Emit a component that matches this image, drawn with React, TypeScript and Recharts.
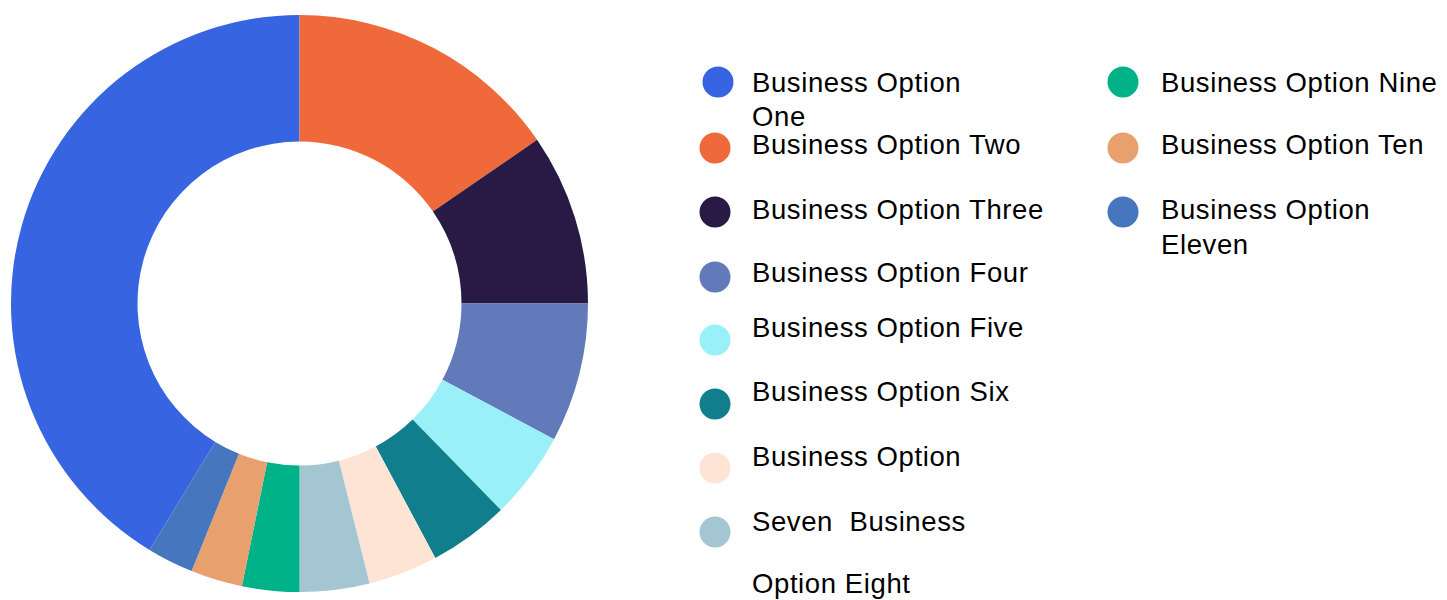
import { PieChart, Pie, Cell } from 'recharts';

const names = [
  'Business Option One',
  'Business Option Two',
  'Business Option Three',
  'Business Option Four',
  'Business Option Five',
  'Business Option Six',
  'Business Option Seven',
  'Business Option Eight',
  'Business Option Nine',
  'Business Option Ten',
  'Business Option Eleven',
];
const shares = [41.3, 15.4, 9.6, 7.8, 4.9, 4.5, 3.9, 3.9, 3.2, 2.9, 2.6];
const colors = [
  '#3764E0', '#F0693B', '#281A44', '#627AB9', '#9AF0F8', '#107E8C',
  '#FEE4D4', '#A3C6D2', '#00B287', '#E7A06E', '#4677BE',
];

// legend text exactly as it wraps in the source
const leftLines = [
  ['Business Option', 'One'],
  ['Business Option Two'],
  ['Business Option Three'],
  ['Business Option Four'],
  ['Business Option Five'],
  ['Business Option Six'],
  ['Business Option'],
  ['Seven  Business'],
  ['Option Eight'],
];
const rightLines = [['Business Option Nine'], ['Business Option Ten'], ['Business Option', 'Eleven']];

const data = names.map((name, i) => ({ name, value: shares[i] }));
const total = shares.reduce((a, b) => a + b, 0);
// first slice ends at 12 o'clock, rest run clockwise
const start = 90 + (360 * shares[0]) / total;

const leftDots = [82, 148, 212, 277, 340, 404, 468, 532];
const leftBase = [92, 154, 219, 282, 337, 401, 466, 531, 593];
const rightDots = [82, 148, 212];
const rightBase = [92, 154, 219];

const textStyle = {
  fontFamily: '"Liberation Sans", Arial, sans-serif',
  fontSize: 27.5,
  letterSpacing: 0.6,
  fill: '#000',
  whiteSpace: 'pre' as const,
};

export default function App() {
  return (
    <div
      style={{
        position: 'fixed',
        left: 0,
        top: 0,
        width: 1447,
        height: 600,
        background: '#fff',
        overflow: 'hidden',
      }}
    >
      <div style={{ position: 'absolute', left: 0, top: 0 }}>
        <PieChart width={600} height={600} margin={{ top: 0, right: 0, bottom: 0, left: 0 }}>
          <Pie
            data={data}
            dataKey="value"
            nameKey="name"
            cx={299.5}
            cy={303.5}
            innerRadius={162}
            outerRadius={288.5}
            startAngle={start}
            endAngle={start - 360}
            stroke="none"
            isAnimationActive={false}
          >
            {data.map((d, i) => (
              <Cell key={d.name} fill={colors[i]} />
            ))}
          </Pie>
        </PieChart>
      </div>
      <svg width={1447} height={600} style={{ position: 'absolute', left: 0, top: 0 }}>
        {leftDots.map((y, i) => (
          <circle key={'ld' + i} cx={i === 0 ? 718 : 715} cy={y} r={15.5} fill={colors[i]} />
        ))}
        {leftLines.map((lines, i) =>
          lines.map((t, j) => (
            <text key={'lt' + i + j} x={752} y={leftBase[i] + j * 34} style={textStyle}>
              {t}
            </text>
          ))
        )}
        {rightDots.map((y, i) => (
          <circle key={'rd' + i} cx={1123} cy={y} r={15.5} fill={colors[8 + i]} />
        ))}
        {rightLines.map((lines, i) =>
          lines.map((t, j) => (
            <text key={'rt' + i + j} x={1161} y={rightBase[i] + j * 35} style={textStyle}>
              {t}
            </text>
          ))
        )}
      </svg>
    </div>
  );
}
